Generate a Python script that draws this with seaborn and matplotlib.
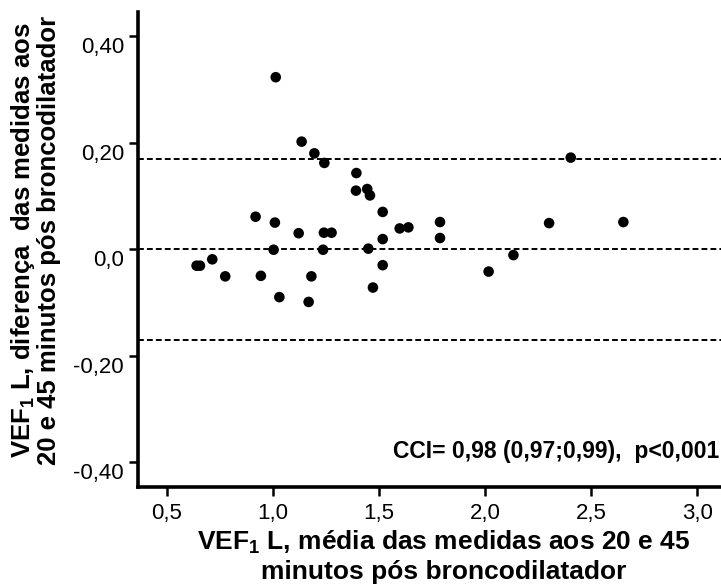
import matplotlib
matplotlib.use("Agg")
import matplotlib.pyplot as plt
import matplotlib.transforms as mtrans
import seaborn as sns
import pandas as pd

# Data (Bland-Altman points)
media = [1.013, 1.135, 1.195, 1.242, 1.393, 1.391, 1.444, 1.457, 1.517, 0.918,
         1.009, 1.121, 1.240, 1.276, 1.597, 1.638, 1.787, 1.787, 1.517, 1.003,
         1.236, 1.449, 0.640, 0.656, 0.714, 0.775, 0.943, 1.181, 1.517, 1.030,
         1.168, 1.471, 2.403, 2.301, 2.651, 2.133, 2.016]
diferenca = [0.323, 0.202, 0.180, 0.162, 0.143, 0.110, 0.113, 0.101, 0.070, 0.061,
             0.050, 0.030, 0.031, 0.031, 0.039, 0.041, 0.051, 0.021, 0.019, -0.001,
             -0.001, 0.001, -0.031, -0.031, -0.019, -0.051, -0.050, -0.051, -0.030, -0.090,
             -0.099, -0.072, 0.172, 0.049, 0.051, -0.011, -0.042]
linhas_ref = [0.17, 0.0, -0.17]
xticks = [0.5, 1.0, 1.5, 2.0, 2.5, 3.0]
xtick_labels = ["0,5", "1,0", "1,5", "2,0", "2,5", "3,0"]
yticks = [-0.40, -0.20, 0.0, 0.20, 0.40]
ytick_labels = ["-0,40", "-0,20", "0,0", "0,20", "0,40"]

sns.set_style("ticks")
plt.rcParams["font.family"] = ["Liberation Sans", "DejaVu Sans"]
plt.rcParams["mathtext.fontset"] = "custom"
plt.rcParams["mathtext.rm"] = "Liberation Sans"
plt.rcParams["mathtext.bf"] = "Liberation Sans:bold"
plt.rcParams["mathtext.default"] = "bf"
for k in ["text.color", "axes.labelcolor", "xtick.color", "ytick.color",
          "axes.edgecolor", "xtick.labelcolor", "ytick.labelcolor"]:
    plt.rcParams[k] = "black"

df = pd.DataFrame({"media": media, "diferenca": diferenca})

fig = plt.figure(figsize=(7.21, 5.88), dpi=100)
ax = fig.add_axes([138 / 721, 1 - 486.7 / 588, 1 - 138 / 721, (486.7 - 11.7) / 588])

for yv in linhas_ref:
    ax.axhline(yv, color="black", lw=1.4, linestyle=(0, (3, 1.6)), zorder=1)

sns.scatterplot(data=df, x="media", y="diferenca", ax=ax, color="black",
                s=58, edgecolor="none", zorder=3, legend=False)

ax.set_xlim(0.364, 3.111)
ax.set_ylim(-0.446, 0.446)
ax.set_xticks(xticks)
ax.set_xticklabels(xtick_labels)
ax.set_yticks(yticks)
ax.set_yticklabels(ytick_labels)

for s in ["top", "right"]:
    ax.spines[s].set_visible(False)
for s in ["left", "bottom"]:
    ax.spines[s].set_linewidth(2.6)
    ax.spines[s].set_color("black")
ax.tick_params(axis="both", direction="out", length=6.5, width=1.8,
               labelsize=16, color="black", labelcolor="black")
ax.tick_params(axis="x", pad=5)
ax.tick_params(axis="y", pad=3.5)

off = mtrans.ScaledTranslation(0, -9 / 100, fig.dpi_scale_trans)
for lab in ax.get_yticklabels():
    lab.set_transform(lab.get_transform() + off)

ax.set_xlabel("VEF$_1$ L, média das medidas aos 20 e 45\nminutos pós broncodilatador",
              fontsize=19, fontweight="bold", linespacing=1.2, color="black")
ax.xaxis.set_label_coords((444 - 138) / (721 - 138), -(529 - 486.7) / 475, transform=ax.transAxes)
ax.xaxis.label.set_va("top")

ax.set_ylabel("VEF$_1$ L, diferença  das medidas aos\n20 e 45 minutos pós broncodilatador",
              fontsize=18.5, fontweight="bold", linespacing=1.0, color="black")
ax.yaxis.set_label_coords(-(138 - 35) / (721 - 138), (486.7 - 240) / 475, transform=ax.transAxes)
ax.yaxis.label.set_va("center")

ax.text(0.997, 0.075, "CCI= 0,98 (0,97;0,99),  p<0,001", transform=ax.transAxes,
        ha="right", va="center", fontsize=16.5, fontweight="bold", color="black")

fig.savefig("out.png", dpi=100)
